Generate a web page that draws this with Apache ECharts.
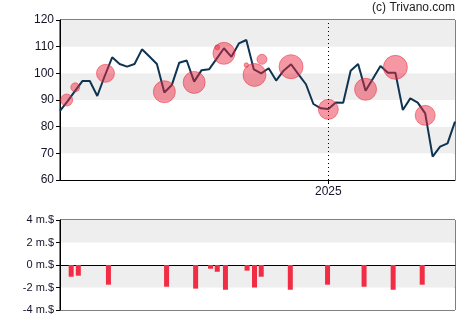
<!DOCTYPE html>
<html>
<head>
<meta charset="utf-8">
<script src="https://cdn.jsdelivr.net/npm/echarts@6/dist/echarts.min.js"></script>
<style>
  html, body { margin: 0; padding: 0; background: #fff; }
  #chart { width: 470px; height: 325px; }
</style>
</head>
<body>
<div id="chart"></div>
<script>
// Weekly closing prices, week index 0..53 (week 36 = first week of 2025)
const priceWeeks = [0,1,2,3,4,5,6,7,8,9,10,11,12,13,14,15,16,17,18,19,20,21,22,23,24,25,26,
  27,28,29,30,31,32,33,34,35,36,37,38,39,40,41,42,43,44,45,46,47,48,49,50,51,52,53];
const priceValues = [85.9,89.5,93.3,97.1,97.1,91.5,99,106.0,103.5,102.5,103.5,109,106.3,103.5,
  92.8,95.6,104,104.8,96.9,101.2,101.5,105.4,109.4,106.2,111.2,112.5,101.5,100,101.9,97.3,101,
  103.4,99.6,95.9,88.5,86.9,86.6,89.1,89,101,103.5,93.5,98.1,102.75,100.25,100.25,86.25,90.6,
  89,85,68.75,72.5,73.75,81.9];

// Insider transactions: week position, trade price, trade weight (bubble area)
const tradeWeeks  = [0.9, 2.05, 6.1, 14, 18, 21.1, 22, 25, 26.1, 27.1, 31, 36, 41, 45, 49];
const tradePrices = [90, 94.75, 100, 93.1, 96.6, 109.75, 107.5, 103.1, 99.4, 105.25, 102.5, 86.5, 94, 102.25, 84.25];
const tradeWeight = [36, 20, 81, 121, 121, 6, 121, 5, 132, 25, 144, 100, 121, 144, 100];

// Net insider flow in millions of dollars
const flowWeeks  = [1.5, 2.46, 6.5, 14.3, 18.2, 20.2, 21.1, 22.2, 25.1, 26.1, 27, 30.9, 35.9, 40.8, 44.7, 48.6];
const flowValues = [-1.04, -0.95, -1.75, -1.93, -2.1, -0.33, -0.6, -2.2, -0.5, -2.0, -1.04, -2.2, -1.75, -1.93, -2.2, -1.75];

const yearMarkWeek = 36;
const yearMarkLabel = '2025';

const FONT = 'Liberation Sans, Arial, sans-serif';
const TXT = '#14142a';

const chart = echarts.init(document.getElementById('chart'), null, { renderer: 'canvas' });

chart.setOption({
  animation: false,
  backgroundColor: '#fff',
  graphic: [{
    type: 'text', right: 15, top: 2,
    style: { text: '(c) Trivano.com', font: '12px ' + FONT, fill: '#222', textAlign: 'right' }
  }],
  grid: [
    { left: 60, top: 20, width: 395, height: 160, show: true, borderColor: '#000', borderWidth: 1, backgroundColor: 'transparent' },
    { left: 60, top: 220, width: 395, height: 90, show: true, borderColor: '#000', borderWidth: 1, backgroundColor: 'transparent' }
  ],
  xAxis: [
    {
      type: 'value', gridIndex: 0, min: 0, max: 53,
      axisLine: { show: true, onZero: false, lineStyle: { color: '#000' } },
      axisTick: { show: true, customValues: [yearMarkWeek], length: 4, lineStyle: { color: '#000' } },
      axisLabel: { show: true, customValues: [yearMarkWeek], formatter: () => yearMarkLabel,
        fontFamily: FONT, fontSize: 12, color: TXT, margin: 6 },
      splitLine: { show: false }
    },
    {
      type: 'value', gridIndex: 1, min: 0, max: 53,
      axisLine: { show: true, onZero: true, lineStyle: { color: '#000' } },
      axisTick: { show: false }, axisLabel: { show: false }, splitLine: { show: false }
    }
  ],
  yAxis: [
    {
      type: 'value', gridIndex: 0, min: 60, max: 120, interval: 10,
      axisLine: { show: true, lineStyle: { color: '#000' } },
      axisTick: { show: true, length: 4, lineStyle: { color: '#000' } },
      axisLabel: { fontFamily: FONT, fontSize: 12, color: TXT, margin: 6 },
      splitLine: { show: false },
      splitArea: { show: true, areaStyle: { color: ['#ffffff', '#eeeeee'] } }
    },
    {
      type: 'value', gridIndex: 1, min: -4, max: 4, interval: 2,
      axisLine: { show: true, lineStyle: { color: '#000' } },
      axisTick: { show: true, length: 4, lineStyle: { color: '#000' } },
      axisLabel: { fontFamily: FONT, fontSize: 11, color: TXT, margin: 6, formatter: v => v + ' m.$' },
      splitLine: { show: false },
      splitArea: { show: true, areaStyle: { color: ['#ffffff', '#eeeeee'] } }
    }
  ],
  series: [
    {
      type: 'line', xAxisIndex: 0, yAxisIndex: 0, z: 2,
      data: priceWeeks.map((w, i) => [w, priceValues[i]]),
      showSymbol: false, symbol: 'none',
      lineStyle: { color: '#0f3452', width: 2 },
      markLine: {
        silent: true, symbol: 'none', label: { show: false },
        lineStyle: { color: '#000', type: [1, 3], width: 1 },
        data: [{ xAxis: yearMarkWeek }]
      }
    },
    {
      type: 'scatter', xAxisIndex: 0, yAxisIndex: 0, z: 3,
      data: tradeWeeks.map((w, i) => [w, tradePrices[i], tradeWeight[i]]),
      symbolSize: d => 2 * Math.sqrt(d[2]),
      itemStyle: { color: 'rgba(235,40,62,0.6)', borderColor: 'rgba(230,35,55,0.6)', borderWidth: 1 }
    },
    {
      type: 'bar', xAxisIndex: 1, yAxisIndex: 1,
      data: flowWeeks.map((w, i) => [w, flowValues[i]]),
      barWidth: 5,
      itemStyle: { color: '#f02d44' }
    }
  ]
});
</script>
</body>
</html>
